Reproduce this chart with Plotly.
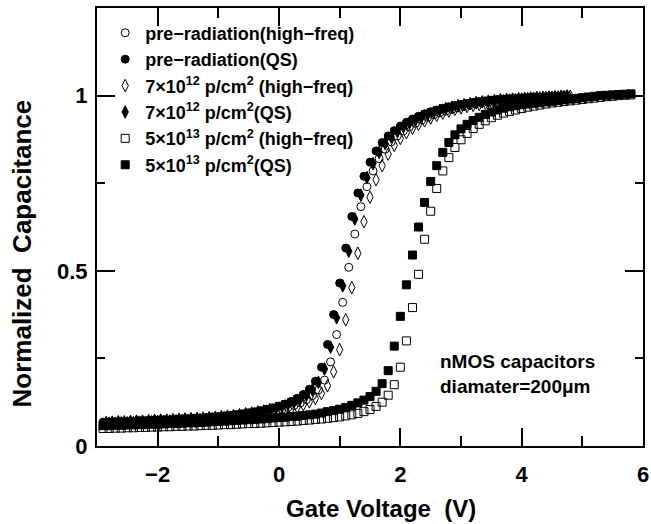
import plotly.graph_objects as go

# gate voltage grids (V)
V_PRE_QS = [-2.9, -2.8, -2.7, -2.6, -2.5, -2.4, -2.3, -2.2, -2.1, -2.0,
            -1.9, -1.8, -1.7, -1.6, -1.5, -1.4, -1.3, -1.2, -1.1, -1.0,
            -0.9, -0.8, -0.7, -0.6, -0.5, -0.4, -0.3, -0.2, -0.1, 0.0,
            0.1, 0.2, 0.3, 0.4, 0.5, 0.6, 0.7, 0.8, 0.9, 1.0,
            1.1, 1.2, 1.3, 1.4, 1.5, 1.6, 1.7, 1.8, 1.9, 2.0,
            2.1, 2.2, 2.3, 2.4, 2.5, 2.6, 2.7, 2.8, 2.9, 3.0,
            3.1, 3.2, 3.3, 3.4, 3.5, 3.6, 3.7, 3.8, 3.9, 4.0,
            4.1, 4.2, 4.3, 4.4, 4.5, 4.6, 4.7]
V_SHIFT = [-2.85, -2.75, -2.65, -2.55, -2.45, -2.35, -2.25, -2.15, -2.05, -1.95,
           -1.85, -1.75, -1.65, -1.55, -1.45, -1.35, -1.25, -1.15, -1.05, -0.95,
           -0.85, -0.75, -0.65, -0.55, -0.45, -0.35, -0.25, -0.15, -0.05, 0.05,
           0.15, 0.25, 0.35, 0.45, 0.55, 0.65, 0.75, 0.85, 0.95, 1.05,
           1.15, 1.25, 1.35, 1.45, 1.55, 1.65, 1.75, 1.85, 1.95, 2.05,
           2.15, 2.25, 2.35, 2.45, 2.55, 2.65, 2.75, 2.85, 2.95, 3.05,
           3.15, 3.25, 3.35, 3.45, 3.55, 3.65, 3.75, 3.85, 3.95, 4.05,
           4.15, 4.25, 4.35, 4.45, 4.55, 4.65, 4.75]
V_7E12_HF = [-2.8, -2.7, -2.6, -2.5, -2.4, -2.3, -2.2, -2.1, -2.0, -1.9,
             -1.8, -1.7, -1.6, -1.5, -1.4, -1.3, -1.2, -1.1, -1.0, -0.9,
             -0.8, -0.7, -0.6, -0.5, -0.4, -0.3, -0.2, -0.1, 0.0, 0.1,
             0.2, 0.3, 0.4, 0.5, 0.6, 0.7, 0.8, 0.9, 1.0, 1.1,
             1.2, 1.3, 1.4, 1.5, 1.6, 1.7, 1.8, 1.9, 2.0, 2.1,
             2.2, 2.3, 2.4, 2.5, 2.6, 2.7, 2.8, 2.9, 3.0, 3.1,
             3.2, 3.3, 3.4, 3.5, 3.6, 3.7, 3.8, 3.9, 4.0, 4.1,
             4.2, 4.3, 4.4, 4.5, 4.6, 4.7, 4.8]
V_5E13 = [-2.9, -2.8, -2.7, -2.6, -2.5, -2.4, -2.3, -2.2, -2.1, -2.0,
          -1.9, -1.8, -1.7, -1.6, -1.5, -1.4, -1.3, -1.2, -1.1, -1.0,
          -0.9, -0.8, -0.7, -0.6, -0.5, -0.4, -0.3, -0.2, -0.1, 0.0,
          0.1, 0.2, 0.3, 0.4, 0.5, 0.6, 0.7, 0.8, 0.9, 1.0,
          1.1, 1.2, 1.3, 1.4, 1.5, 1.6, 1.7, 1.8, 1.9, 2.0,
          2.1, 2.2, 2.3, 2.4, 2.5, 2.6, 2.7, 2.8, 2.9, 3.0,
          3.1, 3.2, 3.3, 3.4, 3.5, 3.6, 3.7, 3.8, 3.9, 4.0,
          4.1, 4.2, 4.3, 4.4, 4.5, 4.6, 4.7, 4.8, 4.9, 5.0,
          5.1, 5.2, 5.3, 5.4, 5.5, 5.6, 5.7, 5.8]

# normalized capacitance
C_PRE_QS = [0.068, 0.068, 0.069, 0.070, 0.070, 0.071, 0.072, 0.072, 0.073, 0.074,
            0.075, 0.075, 0.076, 0.077, 0.078, 0.079, 0.080, 0.081, 0.083, 0.084,
            0.086, 0.088, 0.090, 0.092, 0.095, 0.098, 0.101, 0.105, 0.109, 0.114,
            0.120, 0.127, 0.136, 0.147, 0.162, 0.185, 0.225, 0.290, 0.375, 0.465,
            0.565, 0.655, 0.722, 0.770, 0.810, 0.842, 0.866, 0.885, 0.900, 0.913,
            0.924, 0.933, 0.941, 0.948, 0.954, 0.959, 0.964, 0.968, 0.972, 0.975,
            0.978, 0.981, 0.983, 0.985, 0.987, 0.989, 0.990, 0.991, 0.992, 0.993,
            0.994, 0.995, 0.996, 0.997, 0.998, 0.999, 1.000]
C_PRE_HF = [0.066, 0.066, 0.067, 0.068, 0.068, 0.069, 0.070, 0.070, 0.071, 0.072,
            0.072, 0.073, 0.074, 0.075, 0.075, 0.076, 0.077, 0.078, 0.079, 0.080,
            0.082, 0.083, 0.085, 0.087, 0.089, 0.092, 0.094, 0.097, 0.101, 0.105,
            0.110, 0.116, 0.123, 0.132, 0.144, 0.160, 0.188, 0.240, 0.318, 0.410,
            0.510, 0.605, 0.683, 0.740, 0.785, 0.820, 0.847, 0.868, 0.885, 0.899,
            0.911, 0.921, 0.930, 0.938, 0.945, 0.951, 0.956, 0.961, 0.965, 0.969,
            0.973, 0.976, 0.979, 0.981, 0.983, 0.985, 0.987, 0.989, 0.990, 0.992,
            0.993, 0.994, 0.995, 0.996, 0.997, 0.998, 1.000]
C_7E12_QS = [0.067, 0.068, 0.069, 0.069, 0.070, 0.071, 0.071, 0.072, 0.073, 0.074,
             0.074, 0.075, 0.076, 0.077, 0.078, 0.079, 0.080, 0.081, 0.082, 0.084,
             0.085, 0.087, 0.089, 0.092, 0.094, 0.097, 0.100, 0.104, 0.108, 0.113,
             0.119, 0.126, 0.135, 0.146, 0.160, 0.182, 0.220, 0.282, 0.366, 0.457,
             0.556, 0.648, 0.716, 0.766, 0.806, 0.838, 0.863, 0.882, 0.898, 0.911,
             0.922, 0.931, 0.939, 0.946, 0.952, 0.958, 0.963, 0.967, 0.971, 0.974,
             0.977, 0.980, 0.982, 0.984, 0.986, 0.988, 0.989, 0.990, 0.991, 0.992,
             0.993, 0.994, 0.995, 0.996, 0.997, 0.998, 0.999]
C_7E12_HF = [0.065, 0.065, 0.066, 0.066, 0.067, 0.068, 0.068, 0.069, 0.070, 0.070,
             0.071, 0.072, 0.073, 0.073, 0.074, 0.075, 0.076, 0.077, 0.078, 0.079,
             0.080, 0.082, 0.083, 0.085, 0.087, 0.089, 0.092, 0.095, 0.098, 0.102,
             0.106, 0.111, 0.118, 0.126, 0.136, 0.150, 0.172, 0.212, 0.275, 0.360,
             0.452, 0.550, 0.640, 0.710, 0.760, 0.800, 0.833, 0.858, 0.878, 0.894,
             0.907, 0.918, 0.928, 0.936, 0.944, 0.950, 0.956, 0.961, 0.965, 0.969,
             0.972, 0.975, 0.978, 0.981, 0.983, 0.985, 0.987, 0.988, 0.990, 0.991,
             0.992, 0.993, 0.994, 0.995, 0.996, 0.997, 0.998]
C_5E13_QS = [0.058, 0.058, 0.059, 0.059, 0.060, 0.060, 0.061, 0.061, 0.062, 0.062,
             0.063, 0.064, 0.064, 0.065, 0.066, 0.066, 0.067, 0.068, 0.069, 0.070,
             0.071, 0.072, 0.073, 0.074, 0.075, 0.076, 0.077, 0.078, 0.080, 0.081,
             0.082, 0.084, 0.085, 0.087, 0.089, 0.091, 0.094, 0.098, 0.101, 0.105,
             0.110, 0.116, 0.123, 0.131, 0.141, 0.156, 0.178, 0.215, 0.285, 0.370,
             0.460, 0.545, 0.625, 0.695, 0.755, 0.800, 0.838, 0.866, 0.888, 0.905,
             0.918, 0.929, 0.938, 0.946, 0.953, 0.959, 0.964, 0.968, 0.971, 0.974,
             0.976, 0.978, 0.980, 0.982, 0.984, 0.986, 0.988, 0.990, 0.992, 0.994,
             0.996, 0.998, 1.000, 1.001, 1.002, 1.003, 1.004, 1.005]
C_5E13_HF = [0.050, 0.050, 0.051, 0.051, 0.052, 0.052, 0.053, 0.053, 0.054, 0.054,
             0.055, 0.055, 0.056, 0.056, 0.057, 0.057, 0.058, 0.059, 0.059, 0.060,
             0.061, 0.061, 0.062, 0.063, 0.064, 0.064, 0.065, 0.066, 0.067, 0.068,
             0.069, 0.070, 0.071, 0.073, 0.074, 0.076, 0.077, 0.079, 0.081, 0.083,
             0.086, 0.089, 0.093, 0.098, 0.104, 0.113, 0.125, 0.145, 0.175, 0.225,
             0.300, 0.395, 0.490, 0.590, 0.670, 0.735, 0.785, 0.823, 0.852, 0.874,
             0.892, 0.906, 0.918, 0.928, 0.937, 0.944, 0.950, 0.955, 0.959, 0.963,
             0.967, 0.970, 0.973, 0.976, 0.979, 0.981, 0.983, 0.985, 0.987, 0.989,
             0.991, 0.993, 0.995, 0.997, 0.998, 1.000, 1.001, 1.002]

FONT = "Liberation Sans, Arial, sans-serif"

series = [
    ("pre\u2212radiation(high\u2212freq)", V_SHIFT, C_PRE_HF, "circle-open", 8),
    ("pre\u2212radiation(QS)", V_PRE_QS, C_PRE_QS, "circle", 8),
    ("7\u00d710<sup>12</sup> p/cm<sup>2</sup> (high\u2212freq)", V_7E12_HF, C_7E12_HF, "diamond-tall-open", 9),
    ("7\u00d710<sup>12</sup> p/cm<sup>2</sup>(QS)", V_SHIFT, C_7E12_QS, "diamond-tall", 9),
    ("5\u00d710<sup>13</sup> p/cm<sup>2</sup> (high\u2212freq)", V_5E13, C_5E13_HF, "square-open", 8),
    ("5\u00d710<sup>13</sup> p/cm<sup>2</sup>(QS)", V_5E13, C_5E13_QS, "square", 8),
]

fig = go.Figure()
for name, xs, ys, sym, sz in series:
    fig.add_trace(go.Scatter(
        x=xs, y=ys, mode="markers", name=name,
        marker=dict(symbol=sym, size=sz, color="black",
                    line=dict(color="black", width=1)),
    ))

axis_common = dict(
    showline=True, linecolor="black", linewidth=2, mirror="allticks",
    ticks="inside", tickcolor="black", tickwidth=2, ticklen=18,
    showgrid=False, zeroline=False, automargin=False,
    tickfont=dict(family=FONT, size=22, color="black", weight="bold"),
)

fig.update_xaxes(
    range=[-3, 6], tickmode="linear", tick0=-2, dtick=2, ticklabelstandoff=8,
    minor=dict(dtick=1, ticks="inside", ticklen=10, tickwidth=2, tickcolor="black"),
    **axis_common,
)
fig.update_yaxes(
    range=[0, 1.25], tickmode="linear", tick0=0, dtick=0.5, ticklabelstandoff=3,
    minor=dict(dtick=0.25, ticks="inside", ticklen=8, tickwidth=2, tickcolor="black"),
    **axis_common,
)

# axis titles placed as paper annotations
fig.add_annotation(
    xref="paper", yref="paper", x=0.52, y=-0.142, xanchor="center", yanchor="middle",
    text="<b>Gate Voltage  (V)</b>", showarrow=False,
    font=dict(family=FONT, size=24, color="black"),
)
fig.add_annotation(
    xref="paper", yref="paper", x=-0.137, y=0.44, xanchor="center", yanchor="middle",
    text="<b>Normalized  Capacitance</b>", showarrow=False, textangle=-90,
    font=dict(family=FONT, size=26, color="black"),
)

fig.add_annotation(
    xref="x", yref="y", x=2.62, y=0.205, xanchor="left", yanchor="middle",
    text="<b>nMOS capacitors<br>diamater=200\u03bcm</b>", showarrow=False, align="left",
    font=dict(family=FONT, size=19, color="black"),
)

fig.update_layout(
    template="simple_white",
    width=651, height=524,
    margin=dict(l=97, r=8, t=8, b=78),
    plot_bgcolor="white", paper_bgcolor="white",
    hovermode=False,
    legend=dict(x=0.015, y=0.985, xanchor="left", yanchor="top",
                bgcolor="rgba(0,0,0,0)", itemwidth=30, tracegroupgap=0,
                font=dict(family=FONT, size=18, color="black", weight="bold")),
)

fig.write_html("out.html", config={"displayModeBar": False},
               post_script="document.body.style.margin='0';")
